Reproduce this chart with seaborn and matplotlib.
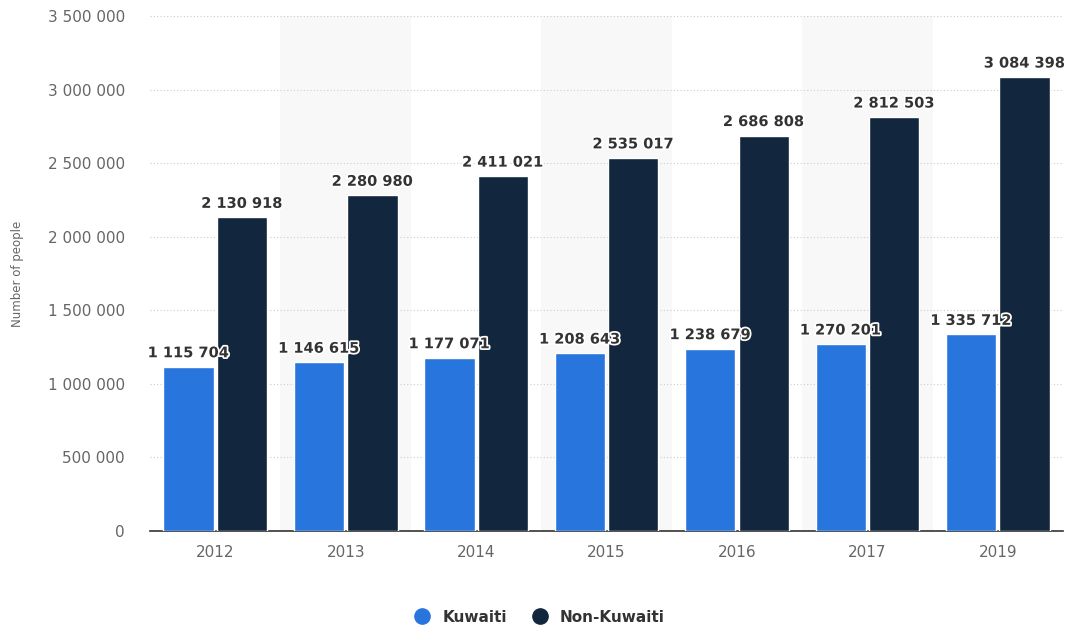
import pandas as pd
import numpy as np
import matplotlib.pyplot as plt
import matplotlib.patheffects as pe
from matplotlib.ticker import FuncFormatter
from matplotlib.lines import Line2D
import seaborn as sns

years = ['2012', '2013', '2014', '2015', '2016', '2017', '2019']
kuwaiti = [1115704, 1146615, 1177071, 1208643, 1238679, 1270201, 1335712]
non_kuwaiti = [2130918, 2280980, 2411021, 2535017, 2686808, 2812503, 3084398]
groups = ['Kuwaiti', 'Non-Kuwaiti']
colors = ['#2876dd', '#12263e']

df = pd.DataFrame({
    'year': years * 2,
    'group': [groups[0]] * len(years) + [groups[1]] * len(years),
    'people': kuwaiti + non_kuwaiti,
})

sns.set_style('white')
plt.rcParams['font.family'] = ['DejaVu Sans']

fig = plt.figure(figsize=(10.72, 6.27), dpi=100)
ax = fig.add_axes([0.14, 0.153, 0.8516, 0.8215])

# alternating light column shading
for i in range(len(years)):
    if i % 2 == 1:
        ax.axvspan(i - 0.5, i + 0.5, color='#f8f8f8', zorder=0, lw=0)

sns.barplot(data=df, x='year', y='people', hue='group', palette=colors,
            width=0.82, gap=0.06, saturation=1, legend=False, ax=ax, zorder=3)

ax.set_xlim(-0.5, len(years) - 0.5)
ax.set_ylim(0, 3500000)
ax.set_yticks(np.arange(0, 3500001, 500000))
ax.yaxis.set_major_formatter(FuncFormatter(lambda v, p: f'{int(v):,}'.replace(',', ' ')))
ax.grid(axis='y', color='#cccccc', linestyle=(0, (1, 2)), lw=0.8, zorder=1)
ax.set_axisbelow(True)

for s in ['top', 'right', 'left']:
    ax.spines[s].set_visible(False)
ax.spines['bottom'].set_color('#333333')
ax.spines['bottom'].set_linewidth(1.2)

ax.tick_params(axis='both', length=0, labelsize=11, colors='#666666')
ax.tick_params(axis='x', pad=10)
ax.tick_params(axis='y', pad=18)
ax.set_xlabel('')
ax.set_ylabel('Number of people', fontsize=8.5, color='#666666')
ax.yaxis.set_label_coords(-126 / 913, 0.5)

for cont in ax.containers:
    for bar in cont:
        h = bar.get_height()
        ax.text(bar.get_x() + bar.get_width() / 2, h + 45000,
                f'{int(h):,}'.replace(',', ' '), ha='center', va='bottom',
                fontsize=10.5, fontweight='bold', color='#333333', zorder=5,
                path_effects=[pe.withStroke(linewidth=2.5, foreground='white')])

handles = [Line2D([0], [0], marker='o', color='none', markerfacecolor=c,
                  markeredgecolor=c, markersize=11) for c in colors]
leg = fig.legend(handles, groups, loc='center', ncol=2, frameon=False,
                 handletextpad=0.3, columnspacing=1.2,
                 prop={'weight': 'bold', 'size': 11})
for t in leg.get_texts():
    t.set_color('#333333')
leg.set_bbox_to_anchor((0.5, 1 - 617 / 627), transform=fig.transFigure)

fig.savefig('out.png', dpi=100)
